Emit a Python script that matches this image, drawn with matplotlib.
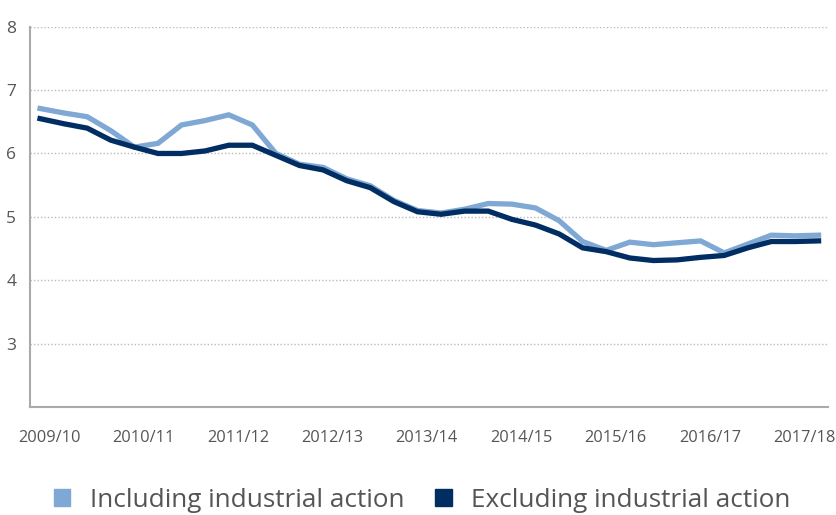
import matplotlib.pyplot as plt
from matplotlib.patches import Patch

plt.rcParams['font.family'] = ['Open Sans', 'DejaVu Sans']

# quarterly rolling figures, 2009/10 to 2017/18
including = [6.71, 6.64, 6.58, 6.36, 6.10, 6.16, 6.45, 6.52, 6.61, 6.45,
             6.00, 5.83, 5.78, 5.60, 5.49, 5.26, 5.10, 5.06, 5.12, 5.21,
             5.20, 5.14, 4.94, 4.61, 4.47, 4.60, 4.56, 4.59, 4.62, 4.43,
             4.57, 4.71, 4.70, 4.71]
excluding = [6.55, 6.47, 6.40, 6.21, 6.10, 6.00, 6.00, 6.04, 6.13, 6.13,
             5.97, 5.81, 5.74, 5.57, 5.46, 5.24, 5.08, 5.04, 5.09, 5.09,
             4.96, 4.87, 4.73, 4.51, 4.45, 4.35, 4.31, 4.32, 4.36, 4.39,
             4.51, 4.61, 4.61, 4.62]
years = ['2009/10', '2010/11', '2011/12', '2012/13', '2013/14',
         '2014/15', '2015/16', '2016/17', '2017/18']
yticks = [3, 4, 5, 6, 7, 8]

light = '#7FA8D4'
dark = '#002D62'
grey = '#555555'

fig = plt.figure(figsize=(8.36, 5.15), dpi=100)
ax = fig.add_axes([0.036, 0.21, 0.955, 0.738])

x = list(range(len(including)))
ax.plot(x, including, color=light, lw=3.8, solid_joinstyle='miter', zorder=3)
ax.plot(x, excluding, color=dark, lw=3.8, solid_joinstyle='miter', zorder=4)

ax.set_xlim(-0.42, len(x) - 1 + 0.42)
ax.set_ylim(2, 8)
ax.set_yticks(yticks)
ax.set_yticklabels([str(v) for v in yticks])
ax.set_xticks([i * 4 + 0.4 for i in range(len(years))])
ax.set_xticklabels(years)
ax.tick_params(length=0, labelcolor=grey)
ax.tick_params(axis='y', pad=10, labelsize=12.5)
ax.tick_params(axis='x', pad=17, labelsize=11.8)

for v in yticks:
    ax.axhline(v, color='#BBBBBB', lw=1, ls=(0, (1, 1.5)), zorder=1)

for s in ['top', 'right']:
    ax.spines[s].set_visible(False)
for s in ['left', 'bottom']:
    ax.spines[s].set_color('#AAAAAA')
    ax.spines[s].set_linewidth(1.5)

handles = [Patch(color=light, label='Including industrial action'),
           Patch(color=dark, label='Excluding industrial action')]
fig.legend(handles=handles, loc='center', bbox_to_anchor=(0.505, 0.028),
           ncol=2, frameon=False, fontsize=18.8, labelcolor=grey,
           handlelength=0.62, handleheight=0.62, handletextpad=0.75,
           columnspacing=1.2)

fig.savefig('out.png', dpi=100)
